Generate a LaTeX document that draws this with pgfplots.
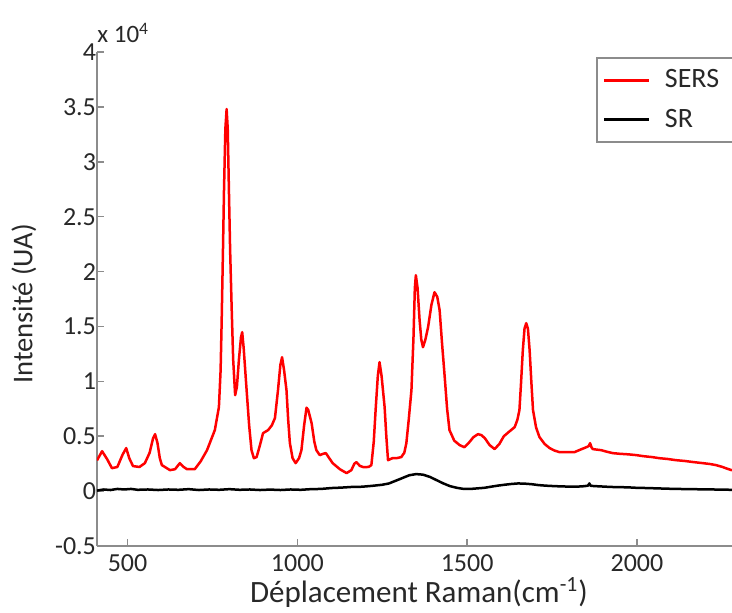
\documentclass[border=0pt]{standalone}
\usepackage{pgfplots}
\pgfplotsset{compat=1.18}
\usepackage{fontspec}
\setmainfont{Carlito}
\definecolor{axgray}{RGB}{140,140,140}
\definecolor{txt}{RGB}{40,40,40}
\begin{document}
\begin{tikzpicture}
\path[use as bounding box] (-48.5pt,-33pt) rectangle (317.5pt,273pt);
\begin{axis}[
  at={(0,0)}, anchor=south west,
  width=317.5pt, height=247pt, scale only axis,
  xmin=410, xmax=2280, ymin=-0.5, ymax=4,
  axis lines=left,
  axis line style={-, draw=axgray, line width=0.8pt},
  tick align=inside,
  major tick length=3.5pt,
  tick style={draw=axgray, line width=0.8pt},
  xtick={500,1000,1500,2000},
  ytick={-0.5,0,0.5,1,1.5,2,2.5,3,3.5,4},
  /pgf/number format/assume math mode=true,
  /pgf/number format/1000 sep={},
  ticklabel style={font=\fontsize{13}{14}\selectfont, text=txt},
  yticklabel style={xshift=3pt},
  xticklabel style={yshift=-1pt},
  xlabel={Déplacement Raman(cm\textsuperscript{-1})},
  ylabel={Intensité (UA)},
  label style={text=txt},
  xlabel style={font=\fontsize{15.5}{17}\selectfont, at={(axis description cs:0.507,0)}, anchor=base, yshift=-28pt},
  ylabel style={font=\fontsize{14.3}{16}\selectfont, at={(axis description cs:-0.115,0.49)}, anchor=center},
  legend style={at={(axis description cs:0.786,0.99)}, anchor=north west,
    draw=axgray, line width=0.8pt, font=\fontsize{14}{16}\selectfont,
    text=txt, inner xsep=3pt, inner ysep=4pt, row sep=5pt},
  legend cell align=left,
  legend image code/.code={\draw[#1, line width=1.5pt] (0pt,0pt) -- (22.5pt,0pt);},
  clip mode=individual,
]
\addplot[red, line width=1.25pt, line join=round] coordinates {
(410,0.28) (425,0.364) (440,0.29) (454,0.209) (470,0.22) (485,0.33) (496,0.392) (505,0.3)
(516,0.228) (535,0.22) (551,0.255) (565,0.35) (575,0.48) (581,0.519) (588,0.44) (595,0.3)
(601,0.237) (625,0.191) (640,0.2) (654,0.255) (665,0.22) (675,0.2) (698,0.2) (715,0.27)
(734,0.373) (757,0.556) (769,0.765) (774,1.1) (777,1.53) (781,2.2) (784,2.74) (788,3.3)
(791.7,3.48) (795,3.3) (798.5,2.74) (802,2.2) (806.5,1.676) (811,1.2) (816.8,0.874) (822,0.95)
(828,1.2) (834,1.4) (837.6,1.448) (842,1.3) (850.6,0.92) (858,0.6) (865,0.373) (872,0.3)
(880,0.31) (890,0.42) (899,0.528) (914,0.556) (925,0.6) (934,0.665) (943,0.92) (950,1.15)
(955,1.22) (961,1.1) (968,0.92) (973,0.65) (978,0.437) (986,0.3) (995,0.255) (1005,0.3)
(1012,0.373) (1020,0.6) (1027,0.76) (1032,0.74) (1042,0.619) (1050,0.45) (1056,0.373) (1066,0.328)
(1076,0.34) (1084,0.346) (1094,0.3) (1104,0.255) (1125,0.2) (1145,0.164) (1159,0.191) (1168,0.25)
(1174,0.264) (1184,0.23) (1194,0.219) (1210,0.22) (1218,0.237) (1225,0.45) (1231,0.765) (1237,1.05)
(1242,1.175) (1248,1.05) (1257,0.765) (1262,0.5) (1267,0.282) (1280,0.3) (1292,0.3) (1306,0.31)
(1315,0.35) (1321,0.437) (1328,0.65) (1336,0.92) (1342,1.4) (1346,1.85) (1349,1.967) (1354,1.85)
(1360,1.557) (1365,1.38) (1370,1.311) (1377,1.38) (1385,1.494) (1395,1.7) (1404,1.812) (1412,1.77)
(1419,1.648) (1426,1.35) (1434,1.038) (1441,0.75) (1448,0.556) (1462,0.46) (1478,0.419) (1492,0.4)
(1505,0.44) (1518,0.49) (1532,0.519) (1542,0.51) (1552,0.483) (1566,0.42) (1581,0.383) (1595,0.43)
(1608,0.5) (1625,0.545) (1640,0.583) (1648,0.65) (1654,0.738) (1659,1.0) (1664,1.284) (1669,1.48)
(1674,1.53) (1679,1.48) (1684,1.284) (1689,1.0) (1694,0.738) (1703,0.58) (1713,0.492) (1728,0.43)
(1743,0.392) (1757,0.37) (1772,0.355) (1795,0.355) (1816,0.355) (1835,0.38) (1851,0.4) (1858,0.41)
(1862,0.437) (1866,0.4) (1870,0.383) (1882,0.378) (1895,0.373) (1910,0.36) (1929,0.346) (1950,0.34)
(1975,0.335) (1998,0.328) (2020,0.318) (2045,0.31) (2066,0.3) (2090,0.293) (2115,0.282) (2140,0.275)
(2165,0.265) (2194,0.255) (2215,0.247) (2233,0.237) (2252,0.22) (2265,0.205) (2280,0.19)
};
\addlegendentry{\hspace*{5pt}\makebox[40pt][l]{SERS}}
\addplot[black, line width=1.25pt, line join=round] coordinates {
(410,0.005) (430,0.015) (450,0.01) (470,0.02) (490,0.015) (510,0.02) (530,0.012) (560,0.015)
(590,0.01) (620,0.015) (650,0.012) (680,0.018) (710,0.01) (740,0.015) (770,0.012) (800,0.018)
(830,0.012) (860,0.015) (890,0.01) (920,0.014) (950,0.01) (980,0.015) (1010,0.012) (1040,0.018)
(1070,0.02) (1100,0.028) (1130,0.032) (1160,0.038) (1190,0.04) (1220,0.048) (1250,0.058) (1270,0.07)
(1290,0.095) (1310,0.12) (1330,0.145) (1350,0.155) (1370,0.15) (1390,0.13) (1410,0.1) (1430,0.07)
(1450,0.045) (1470,0.03) (1490,0.02) (1510,0.02) (1530,0.025) (1550,0.03) (1570,0.04) (1590,0.05)
(1610,0.058) (1630,0.065) (1650,0.07) (1670,0.068) (1690,0.063) (1710,0.055) (1730,0.05) (1760,0.045)
(1790,0.042) (1820,0.04) (1845,0.045) (1856,0.05) (1860,0.07) (1864,0.048) (1880,0.045) (1910,0.04)
(1940,0.036) (1970,0.035) (2000,0.03) (2030,0.028) (2060,0.025) (2090,0.022) (2120,0.02) (2150,0.018)
(2180,0.017) (2210,0.016) (2240,0.014) (2280,0.012)
};
\addlegendentry{\hspace*{5pt}SR}
\end{axis}
\node[anchor=base west, inner sep=0pt, text=txt, font=\fontsize{12.5}{13}\selectfont]
  at (0pt,251.5pt) {x 10\textsuperscript{4}};
\end{tikzpicture}
\end{document}
